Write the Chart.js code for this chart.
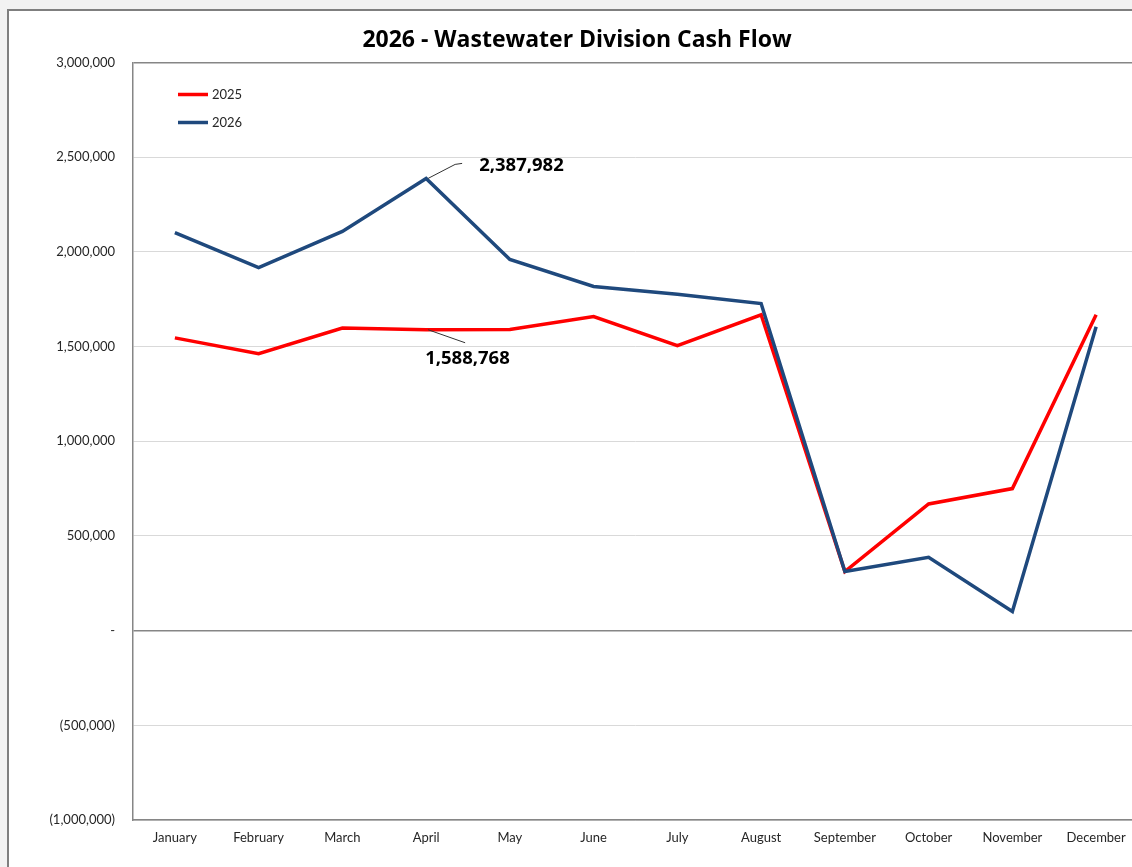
<!DOCTYPE html>
<html>
<head>
<meta charset="utf-8">
<title>2026 - Wastewater Division Cash Flow</title>
<script src="https://cdn.jsdelivr.net/npm/chart.js@4.4.1/dist/chart.umd.min.js"></script>
<style>
    html, body { margin: 0; padding: 0; }
    body { width: 1132px; height: 867px; overflow: hidden; background: #f2f2f2; position: relative; }
    #frame {
        position: absolute; left: 7px; top: 9px; width: 1200px; height: 900px;
        background: #fff; border-left: 2px solid #7f7f7f; border-top: 2px solid #7f7f7f;
    }
    #cashChart { position: absolute; left: 0; top: 0; }
</style>
</head>
<body>
<div id="frame"></div>
<canvas id="cashChart" width="1150" height="867"></canvas>
<script>
// Monthly cash flow
const months = ['January', 'February', 'March', 'April', 'May', 'June', 'July',
    'August', 'September', 'October', 'November', 'December'];
const cash2025 = [1546000, 1462000, 1598000, 1588768, 1590000, 1658000, 1505000,
    1668000, 312000, 669000, 750000, 1668000];
const cash2026 = [2102000, 1917000, 2108000, 2387982, 1960000, 1817000, 1776000,
    1727000, 312000, 387000, 101000, 1605000];
const yMin = -1000000;
const yMax = 3000000;
const yStep = 500000;
const chartTitle = '2026 - Wastewater Division Cash Flow';
// April gets a value callout on both lines
const calloutIndex = 3;

const FONT = "Lato, 'Open Sans', sans-serif";
const BOLD_FONT = "'Open Sans', Lato, sans-serif";
const RED = '#ff0000';
const BLUE = '#1f497d';
const AXIS_GRAY = '#868686';
const GRID_GRAY = '#d9d9d9';

function formatAccounting(v) {
    if (v === 0) return '-';
    const s = Math.abs(v).toLocaleString('en-US');
    return v < 0 ? `(${s})` : s;
}

// Title, legend inside the plot area, and the two leader-line callouts
const overlayPlugin = {
    id: 'overlay',
    afterDatasetsDraw(chart) {
        const ctx = chart.ctx;
        const area = chart.chartArea;
        ctx.save();

        ctx.fillStyle = '#000';
        ctx.font = `bold 23px ${BOLD_FONT}`;
        ctx.textAlign = 'center';
        ctx.textBaseline = 'alphabetic';
        ctx.fillText(chartTitle, 577, 47);

        chart.data.datasets.forEach((ds, i) => {
            const y = area.top + 32 + i * 28;
            ctx.strokeStyle = ds.borderColor;
            ctx.lineWidth = 3.5;
            ctx.beginPath();
            ctx.moveTo(area.left + 45, y);
            ctx.lineTo(area.left + 75, y);
            ctx.stroke();
            ctx.fillStyle = '#262626';
            ctx.font = `13px ${FONT}`;
            ctx.textAlign = 'left';
            ctx.textBaseline = 'middle';
            ctx.fillText(ds.label, area.left + 79, y);
        });

        ctx.font = `bold 18.5px ${BOLD_FONT}`;
        ctx.fillStyle = '#000';
        ctx.strokeStyle = '#333';
        ctx.lineWidth = 1;
        ctx.textAlign = 'left';
        ctx.textBaseline = 'alphabetic';

        // 2026 callout: up and to the right
        const p26 = chart.getDatasetMeta(1).data[calloutIndex];
        ctx.beginPath();
        ctx.moveTo(p26.x + 2, p26.y);
        ctx.lineTo(p26.x + 29, p26.y - 14);
        ctx.lineTo(p26.x + 36, p26.y - 15);
        ctx.stroke();
        ctx.fillText(cash2026[calloutIndex].toLocaleString('en-US'), p26.x + 53, p26.y - 7);

        // 2025 callout: down and to the right
        const p25 = chart.getDatasetMeta(0).data[calloutIndex];
        ctx.beginPath();
        ctx.moveTo(p25.x + 2, p25.y);
        ctx.lineTo(p25.x + 39, p25.y + 13);
        ctx.stroke();
        ctx.fillText(cash2025[calloutIndex].toLocaleString('en-US'), p25.x - 1, p25.y + 34.5);

        ctx.restore();
    }
};

document.addEventListener('DOMContentLoaded', () => {
    const canvas = document.getElementById('cashChart');

    new Chart(canvas, {
        type: 'line',
        data: {
            labels: months,
            datasets: [{
                label: '2025',
                data: cash2025,
                borderColor: RED,
                backgroundColor: RED,
                borderWidth: 3.5,
                pointRadius: 0,
                tension: 0,
                order: 1
            }, {
                label: '2026',
                data: cash2026,
                borderColor: BLUE,
                backgroundColor: BLUE,
                borderWidth: 3.5,
                pointRadius: 0,
                tension: 0,
                order: 0
            }]
        },
        options: {
            responsive: false,
            animation: false,
            layout: { padding: { left: 0, right: 12, top: 62.5, bottom: 0 } },
            plugins: {
                legend: { display: false },
                tooltip: { enabled: false },
                title: { display: false }
            },
            scales: {
                x: {
                    offset: true,
                    grid: { display: false, drawTicks: false },
                    border: { display: true, color: AXIS_GRAY, width: 1.5 },
                    ticks: {
                        color: '#262626',
                        font: { family: FONT, size: 13 },
                        padding: 10,
                        maxRotation: 0,
                        autoSkip: false
                    },
                    afterFit(scale) { scale.height = 47; }
                },
                y: {
                    min: yMin,
                    max: yMax,
                    grid: {
                        drawTicks: false,
                        color: ctx => (ctx.tick && (ctx.tick.value === 0 || ctx.tick.value === yMax)) ? AXIS_GRAY : GRID_GRAY,
                        lineWidth: ctx => (ctx.tick && (ctx.tick.value === 0 || ctx.tick.value === yMax)) ? 1.5 : 1
                    },
                    border: { display: true, color: AXIS_GRAY, width: 1.5 },
                    ticks: {
                        stepSize: yStep,
                        color: '#262626',
                        font: { family: FONT, size: 13 },
                        padding: 18,
                        callback: v => formatAccounting(v)
                    },
                    afterFit(scale) { scale.width = 133; }
                }
            }
        },
        plugins: [overlayPlugin]
    });
});
</script>
</body>
</html>
